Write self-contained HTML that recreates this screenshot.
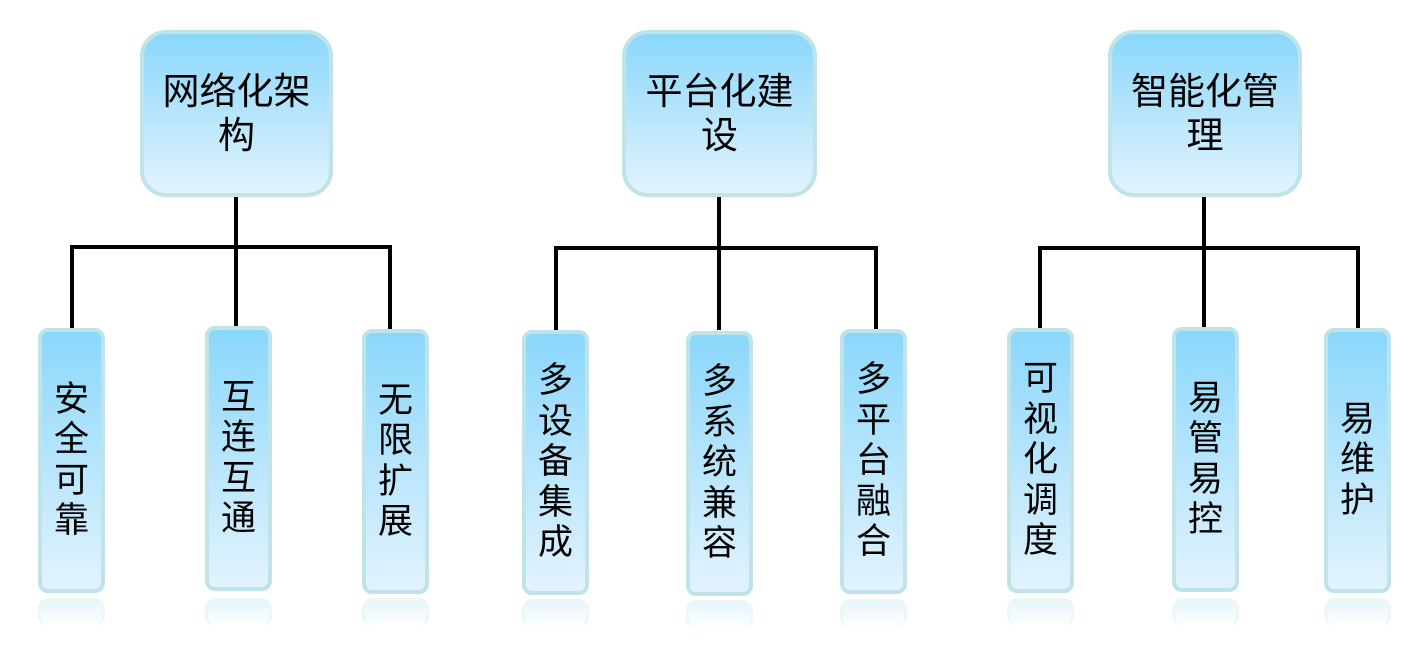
<!DOCTYPE html>
<html><head><meta charset="utf-8"><style>
body{margin:0;width:1412px;height:652px;background:#fff;position:relative;overflow:hidden;font-family:"Liberation Sans","Noto Sans CJK SC",sans-serif;}
.b{position:absolute;box-sizing:border-box;border:4px solid #bfe3e6;background:linear-gradient(#8ad7fb,#e2f3fd);display:flex;align-items:center;justify-content:center;text-align:center;color:#000;}
.t{border-radius:26px;font-size:37px;line-height:44px;padding:0 14px;}
.c{border-radius:10px;font-size:35px;line-height:40.5px;width:67px;height:265px;}
.c span{display:block;width:1em;word-break:break-all;}
.r{position:absolute;width:67px;height:28px;border-radius:10px;border:3px solid #eaf6f7;border-bottom:none;background:linear-gradient(#dff3fd,#fff);opacity:.8;box-sizing:border-box;}
.l{position:absolute;background:#000;}
</style></head><body>
<div class="l" style="left:234px;top:194px;width:4px;height:136px"></div>
<div class="l" style="left:70px;top:245px;width:322px;height:4px"></div>
<div class="l" style="left:70px;top:245px;width:4px;height:85px"></div>
<div class="l" style="left:388px;top:245px;width:4px;height:85px"></div>
<div class="b t" style="left:140px;top:30px;width:193px;height:167px">网络化架构</div>
<div class="b c" style="left:38px;top:328px"><span>安全可靠</span></div>
<div class="b c" style="left:205px;top:326px"><span>互连互通</span></div>
<div class="b c" style="left:362px;top:329px"><span>无限扩展</span></div>
<div class="r" style="left:38px;top:598px"></div>
<div class="r" style="left:205px;top:598px"></div>
<div class="r" style="left:362px;top:598px"></div>
<div class="l" style="left:717px;top:194px;width:4px;height:136px"></div>
<div class="l" style="left:554px;top:246px;width:324px;height:4px"></div>
<div class="l" style="left:554px;top:246px;width:4px;height:86px"></div>
<div class="l" style="left:874px;top:246px;width:4px;height:86px"></div>
<div class="b t" style="left:622px;top:30px;width:195px;height:167px">平台化建设</div>
<div class="b c" style="left:522px;top:330px"><span>多设备集成</span></div>
<div class="b c" style="left:686px;top:331px"><span>多系统兼容</span></div>
<div class="b c" style="left:840px;top:329px"><span>多平台融合</span></div>
<div class="r" style="left:522px;top:599px"></div>
<div class="r" style="left:686px;top:600px"></div>
<div class="r" style="left:840px;top:599px"></div>
<div class="l" style="left:1202px;top:194px;width:4px;height:136px"></div>
<div class="l" style="left:1038px;top:246px;width:322px;height:4px"></div>
<div class="l" style="left:1038px;top:246px;width:4px;height:84px"></div>
<div class="l" style="left:1356px;top:246px;width:4px;height:84px"></div>
<div class="b t" style="left:1108px;top:30px;width:194px;height:167px">智能化管理</div>
<div class="b c" style="left:1007px;top:328px"><span>可视化调度</span></div>
<div class="b c" style="left:1172px;top:327px"><span>易管易控</span></div>
<div class="b c" style="left:1324px;top:328px"><span>易维护</span></div>
<div class="r" style="left:1007px;top:598px"></div>
<div class="r" style="left:1172px;top:598px"></div>
<div class="r" style="left:1324px;top:598px"></div>
</body></html>
